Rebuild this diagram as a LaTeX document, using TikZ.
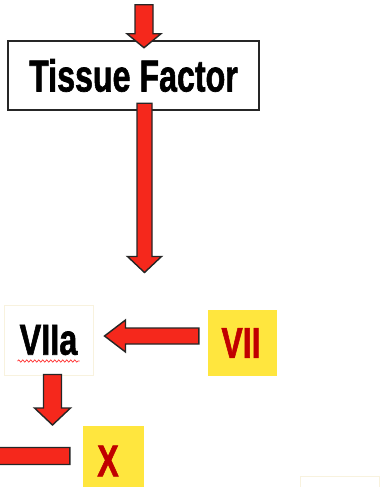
\documentclass[tikz,border=0pt]{standalone}
\usepackage{fontspec}
\usepackage{graphicx}
\setmainfont[BoldFeatures={FakeBold=1.6}]{Liberation Sans}
\usetikzlibrary{calc,decorations.pathmorphing}
\definecolor{arrowred}{RGB}{245,40,28}
\definecolor{boxyellow}{RGB}{255,230,62}
\definecolor{textred}{RGB}{192,0,0}
\definecolor{faint}{RGB}{248,242,222}
\newcommand\cond[2][0.75]{\scalebox{#1}[1]{#2}}
% from, to, shaft half width, head half width, head length
\newcommand\fatarrow[5]{%
  \coordinate (hb) at ($(#2)!#5!(#1)$);
  \draw[fatarrowstyle] ($(#1)!#3!90:(#2)$) -- ($(hb)!#3!90:(#2)$) -- ($(hb)!#4!90:(#2)$) -- (#2)
     -- ($(hb)!#4!-90:(#2)$) -- ($(hb)!#3!-90:(#2)$) -- ($(#1)!#3!-90:(#2)$) -- cycle;}
\tikzset{
  fatarrowstyle/.style={fill=arrowred, draw=black!85, line width=1.4pt, line join=miter},
  bigtext/.style={font=\fontsize{44.7}{50}\selectfont\bfseries},
  midtext/.style={font=\fontsize{43.3}{48}\selectfont\bfseries},
  tfbox/.style={draw=black!85, line width=1.5pt, fill=white, inner sep=0pt,
    minimum width=251pt, minimum height=69pt, bigtext},
  whitebox/.style={draw=faint, line width=1pt, fill=white, inner sep=0pt},
  yellowbox/.style={fill=boxyellow, inner sep=0pt, text=textred},
  squig/.style={draw=red!80, line width=0.7pt, decorate,
    decoration={snake, amplitude=1.1pt, segment length=4pt}}
}
\begin{document}
\begin{tikzpicture}[x=1pt,y=-1pt]
\useasboundingbox (0,0) rectangle (385,487);
\clip (0,0) rectangle (385,487);
% boxes
\node[tfbox] (tf) at (133.5,75.5) {\raisebox{-2.5pt}{\cond[0.72]{Tissue Factor}}};
\node[whitebox, minimum width=89pt, minimum height=70pt, midtext] (viia) at (48.5,340)
  {\raisebox{-2.5pt}{\cond[0.75]{VIIa}}};
\node[yellowbox, minimum width=69pt, minimum height=66pt, midtext] (vii) at (242.5,343)
  {\hspace*{-3pt}\raisebox{-3.5pt}{\cond[0.74]{VII}}};
\node[yellowbox, minimum width=61pt, minimum height=70pt, bigtext] (xbox) at (113.5,461)
  {\hspace*{-11pt}\raisebox{-0.5pt}{\cond[0.72]{X}}};
\node[whitebox, minimum width=79pt, minimum height=48pt] (br) at (339.5,500) {};
% spell-check underline
\draw[squig] ($(viia.center)+(-31,21)$) -- ($(viia.center)+(31,21)$);
% connectors
\coordinate (topstart) at ($(tf.north)+(10.5,-35.5)$);
\coordinate (topend) at ($(tf.north)+(10.5,7.5)$);
\fatarrow{topstart}{topend}{9pt}{17pt}{14pt}
\coordinate (tfout) at ($(tf.south)+(11,-7.5)$);
\coordinate (tfend) at (144.5,272.5);
\fatarrow{tfout}{tfend}{7.5pt}{17pt}{16pt}
\coordinate (viistart) at ($(vii.west)+(-9,-7)$);
\coordinate (viiaend) at ($(viia.east)+(11,-4)$);
\fatarrow{viistart}{viiaend}{8pt}{16pt}{21pt}
\coordinate (viiaout) at ($(viia.south)+(4,-1)$);
\coordinate (viiaend2) at ($(viia.south)+(4,49.5)$);
\fatarrow{viiaout}{viiaend2}{9pt}{18pt}{17pt}
\coordinate (xstart) at ($(xbox.west)+(-13,-5)$);
\coordinate (xend) at (-40,456);
\fatarrow{xstart}{xend}{8.5pt}{17pt}{20pt}
\end{tikzpicture}
\end{document}
